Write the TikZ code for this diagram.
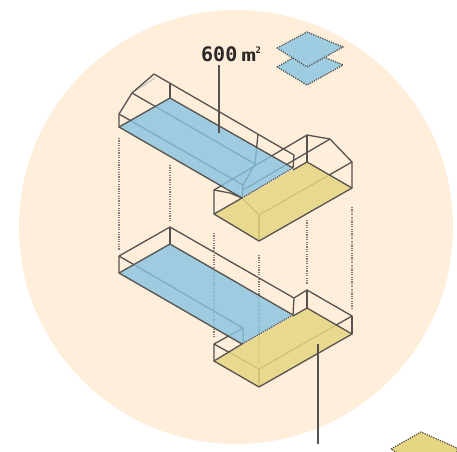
\documentclass[tikz,border=0pt]{standalone}
\usepackage{fontspec}
\usepackage{graphicx}
\setmainfont{DejaVu Sans Mono}
\definecolor{cream}{RGB}{254,238,218}
\definecolor{flr}{RGB}{134,195,225}
\definecolor{flrs}{RGB}{158,204,224}
\definecolor{ylw}{RGB}{230,214,130}
\definecolor{ink}{RGB}{85,82,80}
\tikzset{
 wire/.style={draw=ink,line width=1.3pt,line join=round},
 faint/.style={draw=ink!35,line width=1pt},
 dots/.style={draw=ink!75,line width=1.3pt,dash pattern=on 1.2pt off 1.2pt},
 bluefloor/.style={fill=flr,fill opacity=.8},
 yelfloor/.style={fill=ylw,fill opacity=.85},
 edge/.style={draw=ink,line width=1.3pt,line join=round},
 edged/.style={draw=ink,line width=1.3pt,dash pattern=on 1.2pt off 1.2pt},
 leader/.style={draw=ink,line width=1.3pt},
 lbl/.style={text=ink!50!black,inner sep=0pt,anchor=base west},
}
\begin{document}
\begin{tikzpicture}[x=1pt,y=-1pt]
\useasboundingbox (0,0) rectangle (457,451);
\fill[white] (0,0) rectangle (457,451);
\fill[cream] (236,227) circle [radius=217];
% upper wireframe
\draw[faint] (135,91) -- (155,78);
\draw[wire] (119,127) -- (119,114) -- (132,93) -- (154,74) -- (294,155) -- (293,168);
\draw[wire] (170,98) -- (170,84);
\draw[wire] (132,93) -- (255,164);
\draw[wire] (119,114) -- (243,185) -- (242,198);
\draw[wire] (258,134) -- (255,164) -- (243,185);
\draw[wire] (214,214) -- (214,190) -- (307,135) -- (330,139) -- (352,162) -- (352,188);
\draw[wire] (330,139) -- (243,190);
\draw[wire] (214,190) -- (230,193) -- (242,198) -- (259,215);
\draw[wire] (307,135) -- (307,162);
\draw[wire] (259,215) -- (352,162);
\draw[wire] (259,215) -- (259,241);
\path[bluefloor] (119,127) -- (170,98) -- (293,168) -- (242,198) -- cycle;
\path[yelfloor] (214,214) -- (307,162) -- (352,188) -- (259,241) -- cycle;
\draw[edge] (293,168) -- (170,98) -- (119,127) -- (242,198);
\draw[edged] (242,198) -- (293,168);
\draw[edge] (242,198) -- (214,214) -- (259,241) -- (352,188) -- (307,162) -- (293,170);
% lower wireframe
\draw[wire] (119,273) -- (119,256) -- (170,227) -- (294,298) -- (293,315);
\draw[wire] (170,244) -- (170,227);
\draw[wire] (119,256) -- (243,328) -- (243,344);
\draw[wire] (243,328) -- (214,344) -- (214,361);
\draw[wire] (214,344) -- (259,369) -- (352,316) -- (307,290) -- (294,298);
\draw[wire] (307,290) -- (307,308);
\draw[wire] (352,316) -- (352,334);
\draw[wire] (259,369) -- (259,387);
\coordinate (d3a) at (214,233); \coordinate (d3b) at (214,338);
\coordinate (d4a) at (259,255); \coordinate (d4b) at (259,364);
\draw[dots] (d3a) -- (d3b);
\draw[dots] (d4a) -- (d4b);
\path[bluefloor] (119,273) -- (170,244) -- (293,315) -- (242,344) -- cycle;
\path[yelfloor] (214,361) -- (307,308) -- (352,334) -- (259,387) -- cycle;
\draw[edge] (293,315) -- (170,244) -- (119,273) -- (242,344);
\draw[edged] (242,344) -- (293,315);
\draw[edge] (242,344) -- (214,361) -- (259,387) -- (352,334) -- (307,308) -- (293,316);
% dotted verticals
\coordinate (d1a) at (119,138); \coordinate (d1b) at (119,250);
\coordinate (d2a) at (170,165); \coordinate (d2b) at (170,221);
\coordinate (d5a) at (307,220); \coordinate (d5b) at (307,284);
\coordinate (d6a) at (352,207); \coordinate (d6b) at (352,310);
\draw[dots] (d1a) -- (d1b);
\draw[dots] (d2a) -- (d2b);
\draw[dots] (d5a) -- (d5b);
\draw[dots] (d6a) -- (d6b);
% label
\node[lbl] (area) at (201,61) {\bfseries\fontsize{20}{22}\selectfont 600\hspace{4pt}\fontsize{17}{22}\selectfont\scalebox{1.45}[1]{m}\raisebox{.85ex}{\fontsize{9}{9}\selectfont\hspace{-.5pt}2}};
\coordinate (leadT) at (219,65);
\coordinate (leadA) at (219,133);
\draw[leader] (leadT) -- (leadA);
\coordinate (leadB) at (318,344); \coordinate (leadC) at (318,444);
\draw[leader] (leadB) -- (leadC);
% legend tiles
\path[fill=flrs,edged] (277,67) -- (307,50) -- (343,65) -- (307,85) -- cycle;
\path[fill=flrs,edged] (277,48) -- (307,32) -- (343,47) -- (307,67) -- cycle;
\path[fill=ylw,edged] (391,449) -- (421,432) -- (457,448) -- (457,470) -- (425,470) -- cycle;
\end{tikzpicture}
\end{document}
